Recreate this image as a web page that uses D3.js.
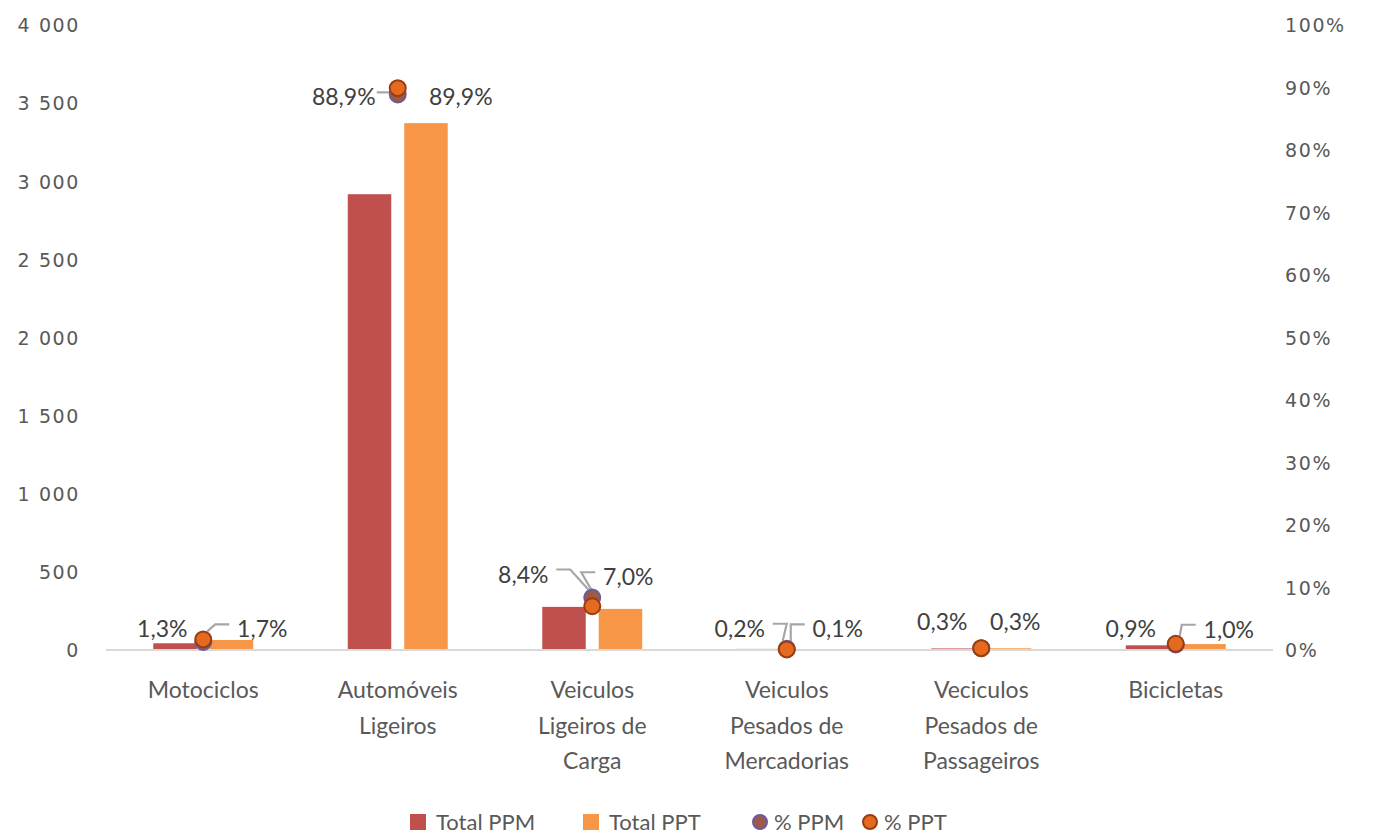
<!DOCTYPE html>
<html><head><meta charset="utf-8">
<script src="https://cdn.jsdelivr.net/npm/d3@7"></script>
<style>
html,body{margin:0;padding:0;background:#fff;}
svg{display:block;}
</style></head>
<body>
<svg id="chart" width="1375" height="837"></svg>
<script>
// ---- data ----
const categories = ["Motociclos", "Automóveis Ligeiros", "Veiculos Ligeiros de Carga", "Veiculos Pesados de Mercadorias", "Veciculos Pesados de Passageiros", "Bicicletas"];
const categoryLines = [["Motociclos"], ["Automóveis", "Ligeiros"], ["Veiculos", "Ligeiros de", "Carga"], ["Veiculos", "Pesados de", "Mercadorias"], ["Veciculos", "Pesados de", "Passageiros"], ["Bicicletas"]];
const totalPPM = [43, 2917, 276, 7, 10, 30];
const totalPPT = [64, 3372, 263, 4, 11, 38];
const pctPPM = [1.3, 88.9, 8.4, 0.2, 0.3, 0.9];
const pctPPT = [1.7, 89.9, 7.0, 0.1, 0.3, 1.0];
const leftTicks = [0, 500, 1000, 1500, 2000, 2500, 3000, 3500, 4000];
const rightTicks = [0, 10, 20, 30, 40, 50, 60, 70, 80, 90, 100];
const seriesNames = ["Total PPM", "Total PPT", "% PPM", "% PPT"];

// label layout (offsets from the marker, pixels) and leader lines
const ppmLabelOffset = [[-41, -13], [-54, 3], [-69, -23], [-47, -20], [-39, -26], [-45, -15]];
const pptLabelOffset = [[59, -10], [63, 9], [36, -29], [51, -20], [34, -26], [53, -14]];
const ppmLeader = [false, true, true, true, false, false];
const pptLeader = [true, false, true, true, false, true];

const colors = {ppm: "#c0504d", ppt: "#f79646"};

const svg = d3.select("#chart");
const margin = {left: 106, right: 102, top: 25, bottom: 187};
const W = 1375, H = 837;
const x0 = margin.left, x1 = W - margin.right;
const yTop = margin.top, yBot = H - margin.bottom;

const x = d3.scaleBand().domain(categories).range([x0, x1]).paddingInner(0.486).paddingOuter(0.243);
const xs = d3.scaleBand().domain(["ppm", "ppt"]).range([0, x.bandwidth()]).paddingInner(0.23);
const yL = d3.scaleLinear().domain([0, 4000]).range([yBot, yTop]);
const yR = d3.scaleLinear().domain([0, 100]).range([yBot, yTop]);
const cx = c => x(c) + x.bandwidth() / 2;

const loc = d3.formatLocale({decimal: ",", thousands: " ", grouping: [3], currency: ["", ""]});
const fmtInt = loc.format(",d");
const fmtPct = loc.format(".1f");

// axes
const axL = svg.append("g").attr("transform", `translate(${x0 - 26},0)`)
  .call(d3.axisLeft(yL).tickValues(leftTicks).tickFormat(fmtInt).tickSize(0).tickPadding(0));
const axR = svg.append("g").attr("transform", `translate(${x1 + 12},0)`)
  .call(d3.axisRight(yR).tickValues(rightTicks).tickFormat(d => d + "%").tickSize(0).tickPadding(0));
[axL, axR].forEach(a => {
  a.select(".domain").remove();
  a.selectAll("text").attr("fill", "#595959").style("font-family", "DejaVu Sans").style("font-size", "19px").style("letter-spacing", "1.6px").attr("dy", "0.36em");
});

// bars
const bars = svg.append("g");
categories.forEach((c, i) => {
  [["ppm", totalPPM[i]], ["ppt", totalPPT[i]]].forEach(([k, v]) => {
    bars.append("rect")
      .attr("x", x(c) + xs(k)).attr("width", xs.bandwidth())
      .attr("y", yL(v)).attr("height", yBot - yL(v))
      .attr("fill", colors[k]);
  });
});

// baseline
svg.append("line").attr("x1", x0).attr("x2", x1).attr("y1", yBot).attr("y2", yBot)
  .attr("stroke", "#d9d9d9").attr("stroke-width", 2);

// category labels
const cl = svg.append("g").style("font-family", "Lato").style("font-size", "23px").attr("fill", "#595959");
categories.forEach((c, i) => {
  const t = cl.append("text").attr("x", cx(c)).attr("y", yBot + 48).attr("text-anchor", "middle");
  categoryLines[i].forEach((ln, j) => {
    t.append("tspan").attr("x", cx(c)).attr("dy", j === 0 ? 0 : 35.5).text(ln);
  });
});

// leader lines + data labels
const lead = svg.append("g").attr("fill", "none").attr("stroke", "#a6a6a6").attr("stroke-width", 2.2);
const lab = svg.append("g").style("font-family", "Lato").style("font-size", "23px").attr("fill", "#404040");
categories.forEach((c, i) => {
  const px = cx(c);
  [[pctPPM[i], ppmLabelOffset[i], ppmLeader[i], -1], [pctPPT[i], pptLabelOffset[i], pptLeader[i], 1]].forEach(([v, off, hasLead, side]) => {
    const py = yR(v);
    const lx = px + off[0], ly = py + off[1];
    lab.append("text").attr("x", lx).attr("y", ly).attr("dy", "0.35em").attr("text-anchor", "middle")
      .text(fmtPct(v) + "%");
    if (hasLead) {
      const edge = lx - side * 33; // label edge facing point
      const ey = ly - 5;
      const hx = edge - side * 14;
      const tx = px + side * 4, ty = py - 8;
      const path = d3.path();
      path.moveTo(edge, ey);
      path.lineTo(hx, ey);
      if (Math.abs(hx - tx) > 2 || Math.abs(ey - ty) > 2) path.lineTo(tx, Math.max(ey, ty));
      lead.append("path").attr("d", path.toString());
    }
  });
});

// markers
const mk = svg.append("g");
categories.forEach((c, i) => {
  mk.append("circle").attr("cx", cx(c)).attr("cy", yR(pctPPM[i])).attr("r", 8)
    .attr("fill", "#9c5a48").attr("stroke", "#6e5a9c").attr("stroke-width", 2);
  mk.append("circle").attr("cx", cx(c)).attr("cy", yR(pctPPT[i])).attr("r", 8)
    .attr("fill", "#e36a1f").attr("stroke", "#9a3c10").attr("stroke-width", 2);
});

// legend
const lg = svg.append("g").style("font-family", "Lato").style("font-size", "22px").attr("fill", "#595959");
const legItems = [
  {name: seriesNames[0], type: "rect", fill: colors.ppm, x: 410},
  {name: seriesNames[1], type: "rect", fill: colors.ppt, x: 583},
  {name: seriesNames[2], type: "circle", fill: "#9c5a48", stroke: "#6e5a9c", x: 752},
  {name: seriesNames[3], type: "circle", fill: "#e36a1f", stroke: "#9a3c10", x: 862}
];
const ly0 = 822;
legItems.forEach(it => {
  if (it.type === "rect") {
    lg.append("rect").attr("x", it.x).attr("y", ly0 - 8).attr("width", 16).attr("height", 16).attr("fill", it.fill);
    lg.append("text").attr("x", it.x + 26).attr("y", ly0).attr("dy", "0.36em").text(it.name);
  } else {
    lg.append("circle").attr("cx", it.x + 8).attr("cy", ly0).attr("r", 7).attr("fill", it.fill).attr("stroke", it.stroke).attr("stroke-width", 2);
    lg.append("text").attr("x", it.x + 22).attr("y", ly0).attr("dy", "0.36em").text(it.name);
  }
});
</script>
</body></html>
